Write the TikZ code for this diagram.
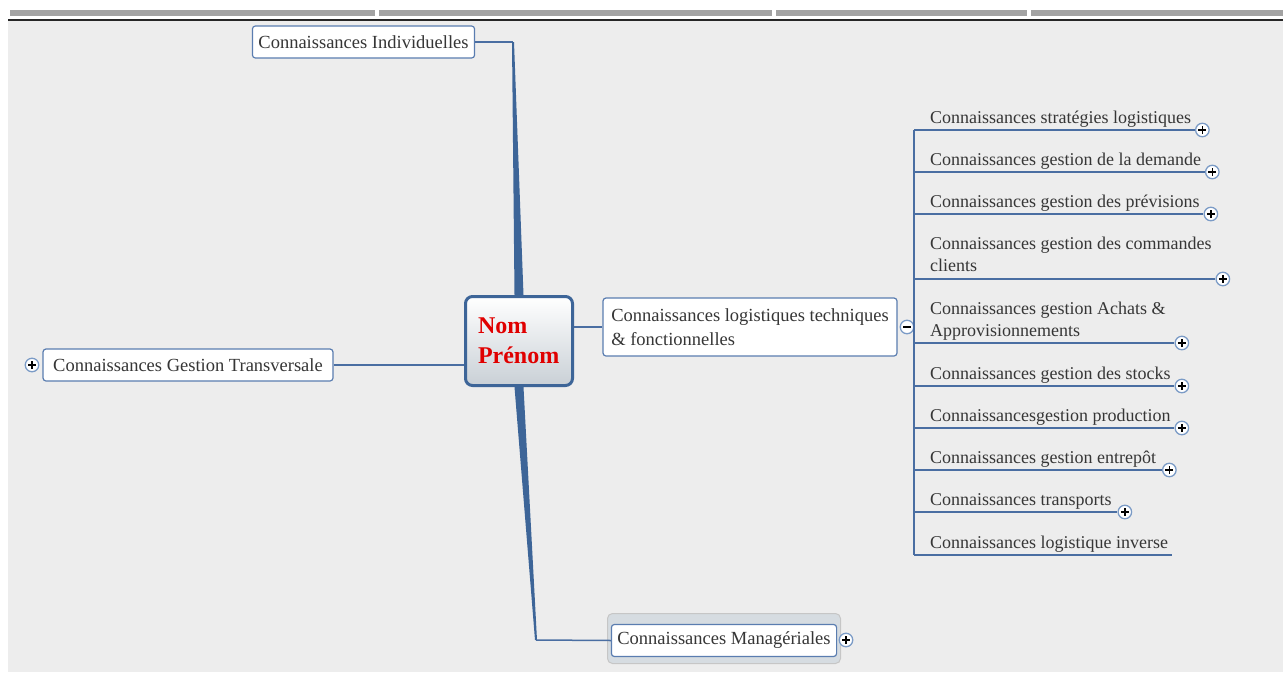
\documentclass[tikz,border=0pt]{standalone}
\usepackage{fontspec}
\setmainfont{Liberation Serif}
\usetikzlibrary{calc}

\definecolor{bggray}{HTML}{EDEDED}
\definecolor{tabgray}{HTML}{A3A3A3}
\definecolor{boxblue}{HTML}{5A7DB0}
\definecolor{linkblue}{HTML}{4A6EA2}
\definecolor{wedgeblue}{HTML}{3D6598}
\definecolor{btnblue}{HTML}{7B9BC6}
\definecolor{textgray}{HTML}{363636}
\definecolor{nomred}{HTML}{E00000}
\definecolor{nomgray}{HTML}{C9D0D6}
\definecolor{halogray}{HTML}{D6DCE1}

\tikzset{
  topic/.style={draw=boxblue, line width=1.2pt, rounded corners=3pt, fill=white,
    text=textgray, font=\fontsize{18.5}{24}\selectfont, inner xsep=6pt,
    minimum height=32pt},
  central/.style={draw=wedgeblue, line width=3pt, rounded corners=7pt,
    top color=white, bottom color=nomgray, minimum width=107pt, minimum height=89pt,
    text=nomred, font=\bfseries\fontsize{24}{30}\selectfont, align=left,
    text width=82pt, inner xsep=12.5pt},
  halo/.style={draw=gray!45, line width=1pt, rounded corners=5pt, fill=halogray,
    minimum width=233pt, minimum height=50pt},
  leaf/.style={anchor=base west, inner sep=0pt, text=textgray,
    font=\fontsize{18}{22}\selectfont, align=left},
  link/.style={draw=linkblue, line width=1.5pt},
  expand/.style={circle, draw=btnblue, line width=1.3pt, fill=white,
    minimum size=13.5pt, inner sep=0pt,
    path picture={\draw[black, line width=1.4pt]
      ([xshift=-4pt]path picture bounding box.center) -- ([xshift=4pt]path picture bounding box.center)
      ([yshift=-4pt]path picture bounding box.center) -- ([yshift=4pt]path picture bounding box.center);}},
  collapse/.style={circle, draw=btnblue, line width=1.3pt, fill=white,
    minimum size=13.5pt, inner sep=0pt,
    path picture={\draw[black, line width=1.4pt]
      ([xshift=-4pt]path picture bounding box.center) -- ([xshift=4pt]path picture bounding box.center);}}
}

\begin{document}
\begin{tikzpicture}[x=1pt, y=-1pt]
\useasboundingbox (0,0) rectangle (1283,675);

% window frame
\fill[white] (0,0) rectangle (1283,675);
\fill[bggray] (8,21) rectangle (1283,672);
\fill[tabgray] (10,9.5) rectangle (375,16);
\fill[tabgray] (379,9.5) rectangle (772,16);
\fill[tabgray] (776,9.5) rectangle (1027,16);
\fill[tabgray] (1031,9.5) rectangle (1283,16);
\fill[black!85] (8,18.5) rectangle (1283,21);

% central topic
\node[central] (nom) at (519,341) {Nom\\Prénom};

% main topics
\node[topic] (indiv) at (363.5,42) {Connaissances Individuelles};
\node[topic, minimum width=290pt] (transv) at (188,365) {Connaissances Gestion Transversale};
\node[topic, align=left, minimum height=58pt, minimum width=294pt] (logist) at (750,327) {Connaissances logistiques techniques\\\& fonctionnelles};
\node[halo] (mgrhalo) at (724,638.5) {};
\node[topic, minimum width=222pt] (mgr) at (724,640.5) {Connaissances Managériales};

\node[expand] (btntransv) at (32,365) {};
\node[collapse] (btnlogist) at (907,327) {};
\node[expand] (btnmgr) at (846,640) {};

% links from the centre
\coordinate (kinkup) at (513,42);
\coordinate (kinkdown) at (536,640);
\draw[link] (indiv.east) -- (kinkup);
\fill[wedgeblue] ([xshift=-4.5pt]nom.north) -- ([xshift=4.5pt]nom.north)
  -- ([xshift=1pt]kinkup) -- ([xshift=-1pt]kinkup) -- cycle;
\fill[wedgeblue] ([xshift=-4.5pt]nom.south) -- ([xshift=4.5pt]nom.south)
  -- ([xshift=1pt]kinkdown) -- ([xshift=-1pt]kinkdown) -- cycle;
\draw[link] (kinkdown) -- (mgr.west);
\draw[link] (transv.east) -- (transv.east -| nom.west);
\draw[link] (nom.east |- logist.west) -- (logist.west);

% sub topics
\coordinate (spinetop) at (914,130);
\coordinate (spinebot) at (914,555);
\draw[link] (spinetop) -- (spinebot);

\node[leaf] (l1) at (930,123) {Connaissances stratégies logistiques};
\node[expand, xshift=11pt] (b1) at (l1.east |- 0,130) {};
\draw[link] (b1 -| spinetop) -- (b1);

\node[leaf] (l2) at (930,165) {Connaissances gestion de la demande};
\node[expand, xshift=11pt] (b2) at (l2.east |- 0,172) {};
\draw[link] (b2 -| spinetop) -- (b2);

\node[leaf] (l3) at (930,207) {Connaissances gestion des prévisions};
\node[expand, xshift=11pt] (b3) at (l3.east |- 0,214) {};
\draw[link] (b3 -| spinetop) -- (b3);

\node[leaf] (l4) at (930,271) {Connaissances gestion des commandes\\clients};
\node[expand, xshift=11pt] (b4) at (l4.east |- 0,279) {};
\draw[link] (b4 -| spinetop) -- (b4);

\node[leaf] (l5) at (930,336) {Connaissances gestion Achats \&\\Approvisionnements};
\node[expand, xshift=16pt] (b5) at (l5.east |- 0,343) {};
\draw[link] (b5 -| spinetop) -- (b5);

\node[leaf] (l6) at (930,379) {Connaissances gestion des stocks};
\node[expand, xshift=11pt] (b6) at (l6.east |- 0,386) {};
\draw[link] (b6 -| spinetop) -- (b6);

\node[leaf] (l7) at (930,421) {Connaissancesgestion production};
\node[expand, xshift=11pt] (b7) at (l7.east |- 0,428) {};
\draw[link] (b7 -| spinetop) -- (b7);

\node[leaf] (l8) at (930,463) {Connaissances gestion entrepôt};
\node[expand, xshift=13pt] (b8) at (l8.east |- 0,470) {};
\draw[link] (b8 -| spinetop) -- (b8);

\node[leaf] (l9) at (930,505) {Connaissances transports};
\node[expand, xshift=13pt] (b9) at (l9.east |- 0,512) {};
\draw[link] (b9 -| spinetop) -- (b9);

\node[leaf] (l10) at (930,548) {Connaissances logistique inverse};
\coordinate (end10) at ([xshift=4pt]l10.east |- 0,555);
\draw[link] (spinebot) -- (end10);

\end{tikzpicture}
\end{document}
